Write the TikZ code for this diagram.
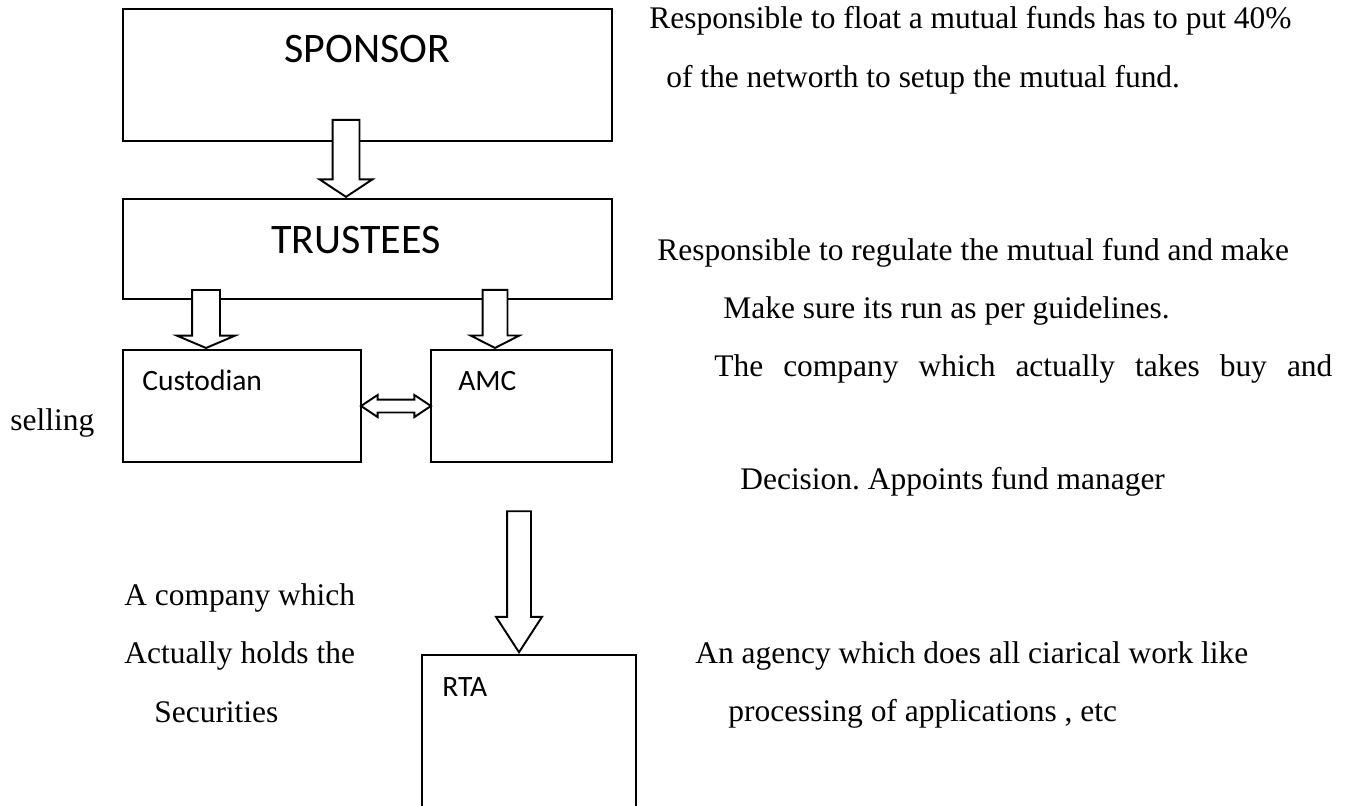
\documentclass[tikz,border=0pt]{standalone}
\usepackage{fontspec}
\setmainfont{Liberation Serif}
\newfontfamily\calibri{Carlito}
\usetikzlibrary{shapes,arrows,calc}
\frenchspacing

\begin{document}
\begin{tikzpicture}[node distance = 1.5cm, auto]
        \tikzstyle{block} = [rectangle, draw, line width=1.1pt, inner sep=0pt]
        \tikzstyle{blocktitle} = [font=\calibri\fontsize{23.9}{28}\selectfont, inner sep=0pt, anchor=base]
        \tikzstyle{boxlabel} = [font=\calibri\fontsize{16.8}{20}\selectfont, inner sep=0pt, anchor=base west]
        \tikzstyle{remark} = [font=\fontsize{17.9}{21}\selectfont, inner sep=0pt, anchor=base west]
        \tikzstyle{downarrow} = [single arrow, draw, fill=white, line width=1.1pt, rotate=-90, inner xsep=0pt, anchor=tip]
        \tikzstyle{twoarrow} = [double arrow, draw, fill=white, line width=1.1pt, inner xsep=0pt]

    \useasboundingbox (0,0) rectangle (26.92,-16.1);

    \node [block, minimum width=9.78cm, minimum height=2.64cm] (sponsor) at (7.35,-1.5) {};
    \node [block, below of=sponsor, node distance=3.48cm, minimum width=9.78cm, minimum height=2cm] (trustees) {};
    \node [block, minimum width=4.76cm, minimum height=2.24cm] (custodian) at (4.84,-8.12) {};
    \node [block, right of=custodian, node distance=5.59cm, minimum width=3.62cm, minimum height=2.24cm] (amc) {};
    \node [block, minimum width=4.28cm, minimum height=4cm] (rta) at (10.58,-15.1) {};

    \node [blocktitle] (sponsor_title) at ([yshift=-1.08cm]sponsor.north) {SPONSOR};
    \node [blocktitle] (trustees_title) at ([shift={(-0.23,-1.1)}]trustees.north) {TRUSTEES};
    \node [boxlabel] (custodian_title) at ([shift={(0.4,-0.82)}]custodian.north west) {Custodian};
    \node [boxlabel] (amc_title) at ([shift={(0.56,-0.82)}]amc.north west) {AMC};
    \node [boxlabel] (rta_title) at ([shift={(0.42,-0.84)}]rta.north west) {RTA};

    \node [downarrow, inner ysep=0.25cm, minimum height=1.54cm, minimum width=1.02cm, single arrow head extend=0.26cm, single arrow tip angle=113] (sponsor_trustees) at ([xshift=-0.43cm]trustees.north) {};
    \node [downarrow, inner ysep=0.26cm, minimum height=1.16cm, minimum width=1.12cm, single arrow head extend=0.3cm, single arrow tip angle=134] (trustees_custodian) at ([xshift=-0.72cm]custodian.north) {};
    \node [downarrow, inner ysep=0.23cm, minimum height=1.16cm, minimum width=0.94cm, single arrow head extend=0.24cm, single arrow tip angle=126] (trustees_amc) at ([xshift=-0.53cm]amc.north) {};
    \node [downarrow, inner ysep=0.22cm, minimum height=2.82cm, minimum width=0.88cm, single arrow head extend=0.22cm, single arrow tip angle=66] (amc_rta) at ([xshift=-0.2cm]rta.north) {};
    \node [twoarrow, inner ysep=0.11cm, minimum height=1.4cm, minimum width=0.4cm, double arrow head extend=0.09cm, double arrow tip angle=67] (custodian_amc) at ($(custodian.east)!0.5!(amc.west)$) {};

    \node [remark] (sponsor_note1) at (12.98,-0.56) {Responsible to float a mutual funds has to put 40\%};
    \node [remark] (sponsor_note2) at (13.32,-1.74) {of the networth to setup the mutual fund.};
    \node [remark] (trustees_note1) at (13.14,-5.2) {Responsible to regulate the mutual fund and make};
    \node [remark] (trustees_note2) at (14.46,-6.36) {Make sure its run as per guidelines.};
    \node [remark] (amc_note1) at (14.28,-7.52) {\makebox[12.36cm][s]{The company which actually takes buy and}};
    \node [remark] (amc_note2) at (0.2,-8.6) {selling};
    \node [remark] (amc_note3) at (14.8,-9.78) {Decision. Appoints fund manager};
    \node [remark] (custodian_note1) at (2.48,-12.1) {A company which};
    \node [remark] (custodian_note2) at (2.48,-13.26) {Actually holds the};
    \node [remark] (custodian_note3) at (3.08,-14.44) {Securities};
    \node [remark] (rta_note1) at (13.9,-13.26) {An agency which does all ciarical work like};
    \node [remark] (rta_note2) at (14.56,-14.42) {processing of applications , etc};

\end{tikzpicture}
\end{document}
